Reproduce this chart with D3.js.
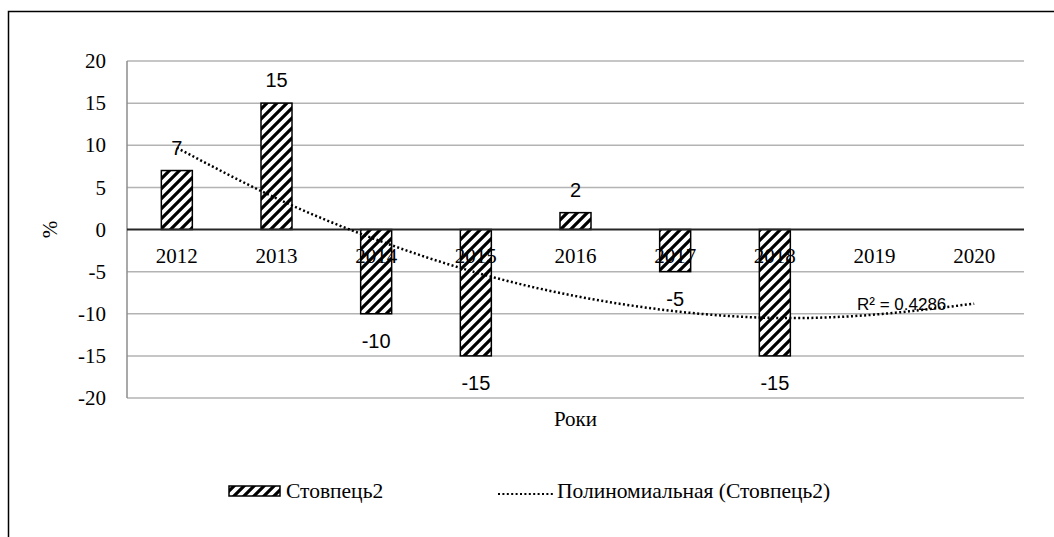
<!DOCTYPE html>
<html>
<head>
    <meta charset="utf-8">
    <script src="https://d3js.org/d3.v7.min.js"></script>
    <style>
        body { margin: 0; background: #fff; }
        .serif { font-family: "Liberation Serif", "Times New Roman", serif; }
        .sans { font-family: "Liberation Sans", Arial, sans-serif; }
    </style>
</head>

<body></body>

<script>
    // data
    var years = ["2012", "2013", "2014", "2015", "2016", "2017", "2018", "2019", "2020"];
    var values = [7, 15, -10, -15, 2, -5, -15, null, null];
    // polynomial trend line, value read at each year
    var trendValues = [9.7, 3.7, -1.2, -5.1, -7.9, -9.7, -10.5, -10.1, -8.8];
    var yTicks = [-20, -15, -10, -5, 0, 5, 10, 15, 20];
    var rSquared = "R² = 0.4286";
    var seriesName = "Стовпець2";
    var trendName = "Полиномиальная (Стовпець2)";

    var W = 1054, H = 537;
    var plot = {left: 127, right: 1024, top: 61, bottom: 398};

    var svg = d3.select("body").append("svg")
        .attr("width", W)
        .attr("height", H);

    var defs = svg.append("defs");
    var pat = defs.append("pattern")
        .attr("id", "hatch")
        .attr("patternUnits", "userSpaceOnUse")
        .attr("width", 10)
        .attr("height", 10);
    pat.append("rect").attr("width", 10).attr("height", 10).attr("fill", "#fff");
    pat.append("path")
        .attr("d", "M-3,3 l6,-6 M0,10 l10,-10 M7,13 l6,-6")
        .attr("stroke", "#000")
        .attr("stroke-width", 3.2);

    // outer frame (runs past the right and bottom edge)
    svg.append("rect")
        .attr("x", 8.5).attr("y", 11.5)
        .attr("width", 1100).attr("height", 600)
        .attr("fill", "none")
        .attr("stroke", "#000")
        .attr("stroke-width", 1.5);

    var x = d3.scaleBand().domain(years).range([plot.left, plot.right]);
    var y = d3.scaleLinear().domain([-20, 20]).range([plot.bottom, plot.top]);
    var barW = 31;

    // grid
    svg.append("g").selectAll("line").data(yTicks.filter(function(d) { return d !== 0; }))
        .enter().append("line")
        .attr("x1", plot.left).attr("x2", plot.right)
        .attr("y1", function(d) { return y(d); })
        .attr("y2", function(d) { return y(d); })
        .attr("stroke", "#b3b3b3")
        .attr("stroke-width", 1.5);

    // y axis line
    svg.append("line")
        .attr("x1", plot.left).attr("x2", plot.left)
        .attr("y1", plot.top).attr("y2", plot.bottom)
        .attr("stroke", "#8c8c8c")
        .attr("stroke-width", 1.5);

    var yAxis = svg.append("g")
        .attr("transform", "translate(" + plot.left + ",0)")
        .call(d3.axisLeft(y).tickValues(yTicks).tickSize(0).tickPadding(21)
            .tickFormat(function(d) { return String(d); }));
    yAxis.select(".domain").remove();
    yAxis.attr("font-family", "Liberation Serif").attr("font-size", 21);
    yAxis.selectAll("text").attr("fill", "#000");

    // bars
    var bars = years.map(function(yr, i) { return {year: yr, v: values[i]}; })
        .filter(function(d) { return d.v !== null; });

    svg.append("g").selectAll("rect").data(bars)
        .enter().append("rect")
        .attr("x", function(d) { return x(d.year) + x.bandwidth() / 2 - barW / 2; })
        .attr("y", function(d) { return y(Math.max(0, d.v)); })
        .attr("width", barW)
        .attr("height", function(d) { return Math.abs(y(d.v) - y(0)); })
        .attr("fill", "url(#hatch)")
        .attr("stroke", "#000")
        .attr("stroke-width", 1.5);

    // zero line
    svg.append("line")
        .attr("x1", plot.left).attr("x2", plot.right)
        .attr("y1", y(0)).attr("y2", y(0))
        .attr("stroke", "#262626")
        .attr("stroke-width", 1.8);

    // category labels, sitting under the zero line
    svg.append("g").selectAll("text").data(years)
        .enter().append("text")
        .attr("class", "serif")
        .attr("x", function(d) { return x(d) + x.bandwidth() / 2; })
        .attr("y", y(0) + 33)
        .attr("text-anchor", "middle")
        .attr("font-size", 21)
        .text(function(d) { return d; });

    // trend line
    var line = d3.line()
        .x(function(d, i) { return x(years[i]) + x.bandwidth() / 2; })
        .y(function(d) { return y(d); })
        .curve(d3.curveNatural);

    svg.append("path")
        .datum(trendValues)
        .attr("d", line)
        .attr("fill", "none")
        .attr("stroke", "#000")
        .attr("stroke-width", 2.5)
        .attr("stroke-dasharray", "2,2.4");

    // data labels
    svg.append("g").selectAll("text").data(bars)
        .enter().append("text")
        .attr("class", "sans")
        .attr("x", function(d) { return x(d.year) + x.bandwidth() / 2; })
        .attr("y", function(d) { return d.v >= 0 ? y(d.v) - 16 : y(d.v) + 34; })
        .attr("text-anchor", "middle")
        .attr("font-size", 20)
        .text(function(d) { return d.v; });

    svg.append("text")
        .attr("class", "sans")
        .attr("x", 857)
        .attr("y", 310)
        .attr("font-size", 17)
        .text(rSquared);

    // axis titles
    svg.append("text")
        .attr("class", "serif")
        .attr("transform", "translate(57," + y(0) + ") rotate(-90)")
        .attr("text-anchor", "middle")
        .attr("font-size", 21)
        .text("%");

    svg.append("text")
        .attr("class", "serif")
        .attr("x", (plot.left + plot.right) / 2)
        .attr("y", 426)
        .attr("text-anchor", "middle")
        .attr("font-size", 21)
        .text("Роки");

    // legend
    var ly = 491;
    svg.append("rect")
        .attr("x", 229).attr("y", ly - 5)
        .attr("width", 51).attr("height", 10)
        .attr("fill", "url(#hatch)")
        .attr("stroke", "#000")
        .attr("stroke-width", 1.5);
    svg.append("text")
        .attr("class", "serif")
        .attr("x", 286).attr("y", ly + 7)
        .attr("font-size", 21.5)
        .text(seriesName);

    svg.append("line")
        .attr("x1", 498).attr("x2", 553)
        .attr("y1", ly + 3).attr("y2", ly + 3)
        .attr("stroke", "#000")
        .attr("stroke-width", 2.2)
        .attr("stroke-dasharray", "2,2.4");
    svg.append("text")
        .attr("class", "serif")
        .attr("x", 557).attr("y", ly + 7)
        .attr("font-size", 21.5)
        .text(trendName);
</script>
</html>
